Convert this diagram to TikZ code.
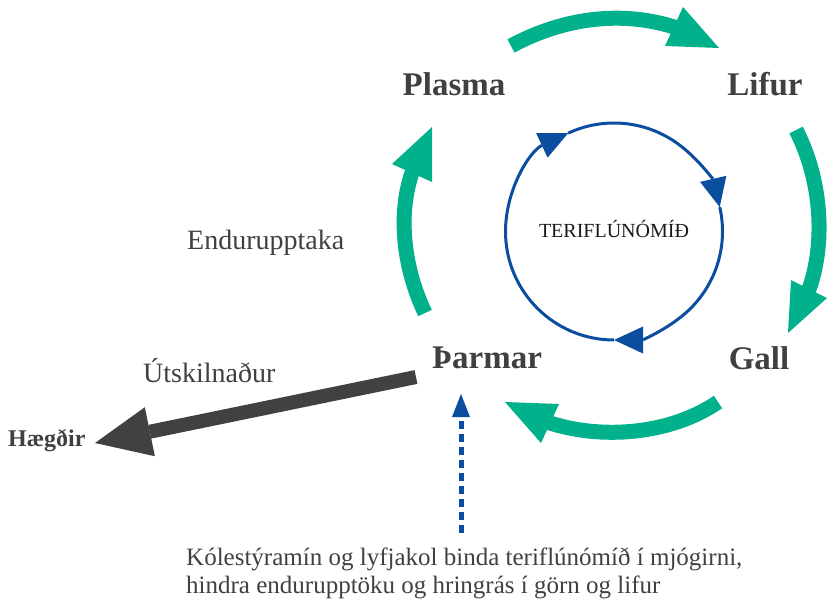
\documentclass[tikz,border=0pt]{standalone}
\usepackage{fontspec}
\setmainfont{Liberation Serif}
\usetikzlibrary{arrows.meta}
\definecolor{grn}{HTML}{00B18C}
\definecolor{blu}{HTML}{0B4EA0}
\definecolor{dgray}{HTML}{414143}
\definecolor{txt}{HTML}{404040}
\begin{document}
\begin{tikzpicture}[x=1pt,y=-1pt,
  organ/.style={font=\fontsize{33}{36}\selectfont\bfseries, text=txt, anchor=base, inner sep=0pt},
  lbl/.style={font=\fontsize{28}{30}\selectfont, text=txt, anchor=base west, inner sep=0pt},
  flow/.style={draw=grn, line width=15pt},
  flowhead/.style={fill=grn, draw=none},
  cyc/.style={draw=blu, line width=3pt, -{Triangle[length=29pt,width=27pt,line width=0pt]}},
]
\useasboundingbox (0,0) rectangle (827,600);

% labels
\node[organ] (plasma) at (454,95) {Plasma};
\node[organ] (lifur) at (765,95) {Lifur};
\node[organ] (gall) at (759,369) {Gall};
\node[organ] (tharmar) at (487,368) {Þarmar};
\node[font=\fontsize{24}{26}\selectfont\bfseries, text=txt, anchor=base west, inner sep=0pt] (haegdir) at (8,446) {Hægðir};
\node[lbl] (endur) at (187,249) {Endurupptaka};
\node[lbl] (utskil) at (143,382) {Útskilnaður};
\node[font=\fontsize{20}{22}\selectfont, text=black!90, anchor=base, inner sep=0pt] (teri) at (614,237) {TERIFLÚNÓMÍÐ};
\node[font=\fontsize{25}{28}\selectfont, text=txt, anchor=base west, inner sep=0pt, align=left] (note) at (186,593)
  {Kólestýramín og lyfjakol binda teriflúnómíð í mjógirni,\\hindra endurupptöku og hringrás í görn og lifur};

% anchor coordinates for connectors
\coordinate (pl-out) at (511,46);
\coordinate (li-in) at (719,48);
\coordinate (li-out) at (796,130);
\coordinate (ga-in) at (788,333);
\coordinate (ga-out) at (718,402);
\coordinate (th-in) at (505,402);
\coordinate (th-out) at (425,313);
\coordinate (pl-in) at (432,127);
\coordinate (th-ex) at (416,377);
\coordinate (ha-in) at (95,443);
\coordinate (note-top) at (461,533);
\coordinate (th-bot) at (461,394);
\coordinate (cc) at (614,231.5);

% enterohepatic cycle (green): shafts
\draw[flow] (pl-out) .. controls (570,14) and (630,12) .. (677,28);
\draw[flow] (li-out) .. controls (822,180) and (826,245) .. (808,292);
\draw[flow] (ga-out) .. controls (670,435) and (600,440) .. (547,422);
\draw[flow] (th-out) .. controls (402,265) and (398,210) .. (413,170);
% heads
\fill[flowhead] (683,7) -- (li-in) -- (665,46) -- cycle;
\fill[flowhead] (791,280) -- (827,298) -- (ga-in) -- cycle;
\fill[flowhead] (559,404) -- (th-in) -- (541,443) -- cycle;
\fill[flowhead] (392,164) -- (pl-in) -- (432,182) -- cycle;

% excretion
\draw[draw=dgray, line width=14pt, -{Triangle[length=56pt,width=50pt,line width=0pt]}] (th-ex) -- (ha-in);

% dashed blue
\draw[draw=blu, line width=5pt, dash pattern=on 8pt off 5pt, -{Triangle[length=23pt,width=18pt,line width=0pt]}] (note-top) -- (th-bot);

% blue cycle
\draw[cyc] (cc) ++(90:108.5) arc[start angle=90, end angle=245, radius=108.5];
\draw[cyc] (cc) ++(-115:108.5) arc[start angle=-115, end angle=-13, radius=108.5];
\draw[cyc] (cc) ++(-13:108.5) arc[start angle=-13, end angle=90, radius=108.5];
\end{tikzpicture}
\end{document}
